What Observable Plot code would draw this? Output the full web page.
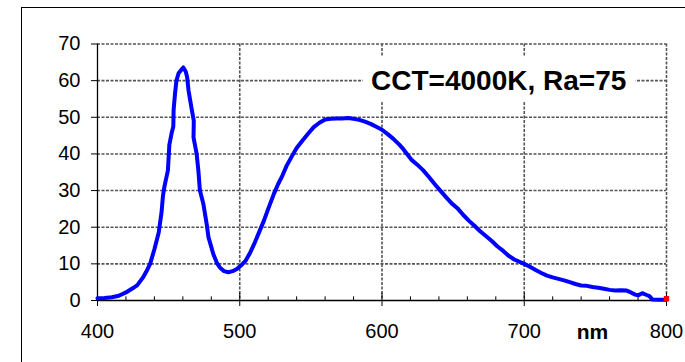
<!DOCTYPE html>
<html>
<head>
<meta charset="utf-8">
<script src="https://cdn.jsdelivr.net/npm/d3@7"></script>
<script src="https://cdn.jsdelivr.net/npm/@observablehq/plot@0.6"></script>
<style>
  html, body { margin: 0; padding: 0; background: #fff; }
  #chart { position: relative; width: 685px; height: 362px; overflow: hidden; }
  #frame { position: absolute; left: 21px; top: 7px; width: 700px; height: 400px;
           border-left: 1px solid #000; border-top: 1px solid #000; pointer-events: none; }
  #chart svg { position: absolute; left: 0; top: 0; }
</style>
</head>
<body>
<div id="chart"><div id="frame"></div></div>
<script>
// Emission spectrum of a white LED (relative intensity vs. wavelength)
const wavelength = [
  400, 405, 410, 415, 420, 425, 428, 432, 435, 437, 440, 443, 445, 446, 447, 449.5,
  450.5, 452, 453.3, 453.5, 454.5, 455.5, 457, 459, 460.3, 462, 463, 464, 466, 467.7,
  467.5, 469.7, 470.9, 472, 474.4, 476.7, 478, 481.4, 484, 486, 489, 492, 495, 498,
  501, 504, 507, 510, 514, 517, 520, 524, 527, 530, 533, 537, 540, 544, 548, 552,
  556, 560, 564, 568, 572, 576, 580, 584, 588, 592, 596, 600, 604, 608, 612, 615,
  618, 621, 625, 629, 633, 637, 641, 645, 649, 653, 657, 661, 665, 669, 673, 677,
  681, 685, 689, 693, 697, 700, 704, 708, 712, 716, 720, 724, 728, 732, 736, 740,
  744, 748, 752, 756, 760, 764, 768, 772, 775, 778, 780, 783, 786, 788, 790, 795, 800
];
const intensity = [
  0.6, 0.7, 0.9, 1.3, 2.2, 3.4, 4.2, 6.3, 8.4, 10.0, 14.0, 18.5, 24.0, 28.5, 31.0, 35.5,
  42.5, 45.5, 47.5, 52.0, 56.5, 60.0, 62.0, 63.0, 63.6, 62.5, 61.0, 57.3, 52.7, 49.0,
  44.5, 40.0, 35.5, 30.0, 26.4, 21.0, 17.3, 12.7, 10.2, 9.0, 8.0, 7.7, 8.0, 8.6,
  9.6, 10.8, 12.8, 15.3, 19.0, 21.8, 25.0, 29.1, 31.8, 34.1, 36.8, 39.6, 41.6, 43.6, 45.5, 47.3,
  48.5, 49.4, 49.6, 49.7, 49.7, 49.8, 49.6, 49.3, 48.8, 48.2, 47.4, 46.6, 45.4, 44.1, 42.6, 41.3,
  39.8, 38.3, 37.0, 35.5, 33.7, 31.8, 30.0, 28.2, 26.5, 25.2, 23.4, 21.8, 20.4, 18.9, 17.6, 16.3,
  14.8, 13.6, 12.2, 11.2, 10.5, 10.0, 9.2, 8.3, 7.5, 6.8, 6.3, 5.9, 5.5, 5.0, 4.5, 4.1,
  4.0, 3.7, 3.5, 3.2, 2.9, 2.7, 2.8, 2.7, 2.2, 1.6, 1.4, 2.0, 1.5, 1.2, 0.3, 0.2, 0.2
];

const yTicks = [0, 10, 20, 30, 40, 50, 60, 70];
const xTicks = [400, 500, 600, 700, 800];
const xMinorTicks = [420, 440, 460, 480, 520, 540, 560, 580, 620, 640, 660, 680, 720, 740, 760, 780];

const annotationText = ["CCT=4000K, Ra=75"];
const annotationBox = [{ x1: 587, x2: 778.5, y1: 54, y2: 66.3 }];
const unitText = ["nm"];
const endMarker = [{ w: 800, v: 0.5 }];

const spectrum = wavelength.map((w, i) => ({ w, v: intensity[i] }));

const grid = { stroke: "#555", strokeOpacity: 1, strokeWidth: 1.6, strokeDasharray: "3,1.5" };

const chart = Plot.plot({
  width: 685,
  height: 362,
  marginLeft: 97,
  marginRight: 19,
  marginTop: 43.5,
  marginBottom: 62,
  style: { fontFamily: "'Liberation Sans', Arial, sans-serif", fontSize: "20px", color: "#000", background: "transparent" },
  x: { domain: [400, 800] },
  y: { domain: [0, 70] },
  marks: [
    Plot.gridY(yTicks.filter(d => d > 0), grid),
    Plot.gridX(xTicks.filter(d => d > 400), grid),
    Plot.rect(annotationBox, { x1: "x1", x2: "x2", y1: "y1", y2: "y2", fill: "#fff" }),
    Plot.text(annotationText, { x: 682, y: 60, text: d => d, fontSize: 28, fontWeight: "bold", lineAnchor: "middle", fill: "#000" }),
    Plot.ruleX(xMinorTicks, { x: d => d, y1: 0, y2: 1, stroke: "#000" }),
    Plot.ruleX(xTicks, { x: d => d, y1: 0, y2: 2, stroke: "#000" }),
    Plot.ruleY([0], { stroke: "#000", strokeWidth: 1.3 }),
    Plot.ruleX([400], { stroke: "#000", strokeWidth: 1.3 }),
    Plot.axisY({ ticks: yTicks, tickSize: 6, tickPadding: 11, label: null }),
    Plot.axisX({ ticks: xTicks, tickSize: 6, tickPadding: 17, label: null }),
    Plot.line(spectrum, { x: "w", y: "v", stroke: "#0000ff", strokeWidth: 4, strokeLinejoin: "round", strokeLinecap: "round" }),
    Plot.dot(endMarker, { x: "w", y: "v", symbol: "square", r: 3, fill: "#ff0000" }),
    Plot.text(unitText, { x: 748, y: -10.6, text: d => d, fontSize: 21, fontWeight: "bold", lineAnchor: "bottom", fill: "#000" })
  ]
});

document.getElementById("chart").appendChild(chart);
</script>
</body>
</html>
